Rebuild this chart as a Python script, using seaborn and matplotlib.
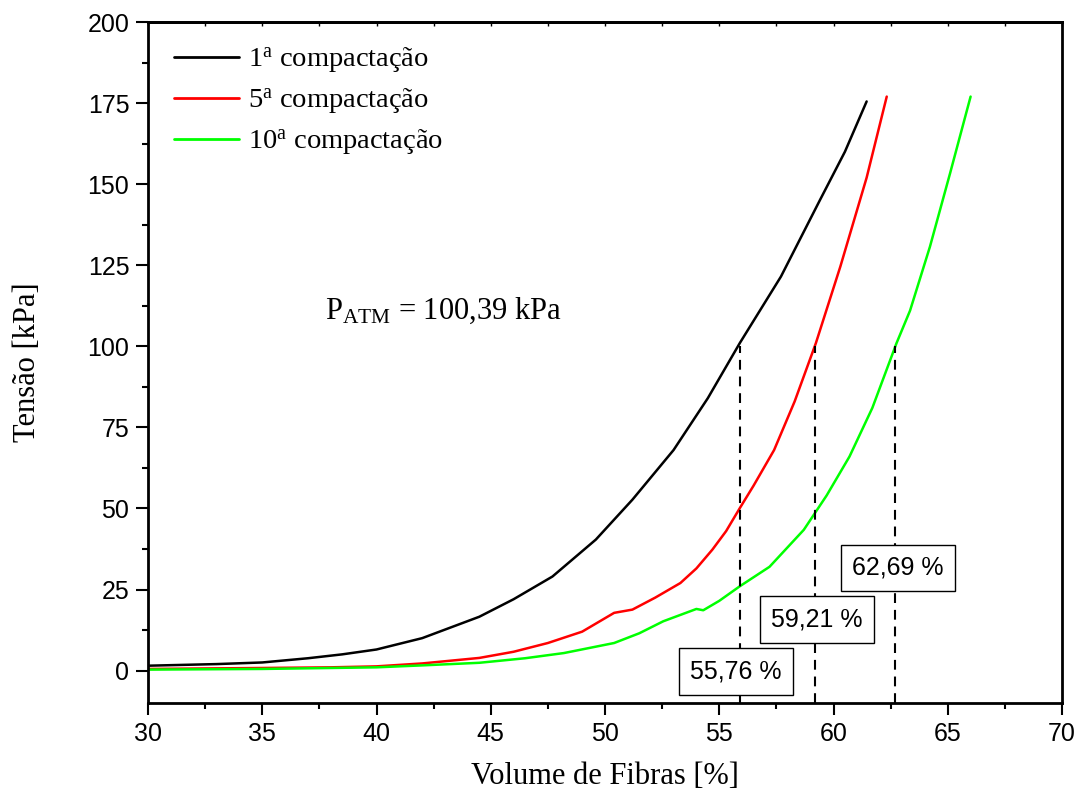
import matplotlib
matplotlib.use("Agg")
import matplotlib.pyplot as plt
import numpy as np
import pandas as pd
import seaborn as sns

# ---- data ----
x_1 = [30.0, 33.0, 35.0, 37.0, 38.5, 40.0, 42.0, 44.5, 46.0, 47.7, 49.6, 51.2, 53.0, 54.5, 55.9, 57.7, 59.4, 60.5, 61.45]
y_1 = [1.5, 2.0, 2.5, 3.8, 5.0, 6.5, 10.0, 16.6, 22.0, 29.0, 40.4, 52.7, 68.0, 84.0, 101.0, 121.5, 145.0, 160.0, 175.5]

x_5 = [30.0, 35.0, 38.0, 40.0, 42.0, 44.5, 46.0, 47.5, 49.0, 50.4, 51.2, 52.2, 53.3, 54.0, 54.7, 55.3, 55.9, 56.5, 57.4, 58.3, 59.23, 60.3, 61.45, 62.33]
y_5 = [0.5, 0.8, 1.0, 1.3, 2.2, 3.9, 5.8, 8.5, 12.0, 17.8, 18.8, 22.5, 27.0, 31.5, 37.3, 43.0, 50.1, 57.0, 68.0, 83.0, 101.0, 124.6, 152.0, 177.0]

x_10 = [30.0, 35.0, 40.0, 42.0, 44.5, 46.5, 48.2, 50.4, 51.5, 52.55, 54.0, 54.3, 55.0, 55.9, 57.2, 58.7, 59.7, 60.7, 61.7, 62.76, 63.35, 64.22, 65.1, 66.0]
y_10 = [0.3, 0.5, 1.0, 1.6, 2.4, 3.8, 5.4, 8.5, 11.5, 15.2, 19.0, 18.6, 21.5, 26.0, 32.0, 43.4, 54.0, 66.0, 81.0, 101.0, 111.0, 130.7, 153.3, 177.0]

series_names = ["1$^{\\mathrm{a}}$ compactação", "5$^{\\mathrm{a}}$ compactação", "10$^{\\mathrm{a}}$ compactação"]
series_colors = ["#000000", "#ff0000", "#00ff00"]

cross_x = [55.9, 59.2, 62.7]
cross_y = 100.0
box_labels = ["55,76 %", "59,21 %", "62,69 %"]
box_x = [55.73, 59.28, 62.82]
box_y = [-0.3, 15.7, 31.7]

patm_text = "P$_{\\mathrm{ATM}}$ = 100,39 kPa"

df = pd.concat([
    pd.DataFrame({"x": x_1, "y": y_1, "serie": series_names[0]}),
    pd.DataFrame({"x": x_5, "y": y_5, "serie": series_names[1]}),
    pd.DataFrame({"x": x_10, "y": y_10, "serie": series_names[2]}),
], ignore_index=True)

# ---- style ----
sns.set_style("ticks")
plt.rcParams["font.family"] = ["Liberation Sans", "DejaVu Sans"]
plt.rcParams["mathtext.fontset"] = "custom"
plt.rcParams["mathtext.rm"] = "Liberation Serif"
plt.rcParams["mathtext.it"] = "Liberation Serif:italic"
plt.rcParams["mathtext.bf"] = "Liberation Serif:bold"
for k in ["text.color", "axes.labelcolor", "axes.edgecolor", "xtick.color", "ytick.color"]:
    plt.rcParams[k] = "black"

fig = plt.figure(figsize=(10.84, 8.05), dpi=100)
ax = fig.add_axes([148 / 1084, 1 - 703 / 805, (1062 - 148) / 1084, (703 - 22) / 805])

sns.lineplot(data=df, x="x", y="y", hue="serie", palette=dict(zip(series_names, series_colors)),
             sort=False, estimator=None, linewidth=1.8, ax=ax)

ax.vlines(cross_x, -10, cross_y, colors="black", linestyles=(0, (4.7, 3.3)), linewidth=1.5)

for lab, bx, by in zip(box_labels, box_x, box_y):
    ax.text(bx, by, lab, fontsize=18, family=["Liberation Sans", "DejaVu Sans"],
            ha="center", va="center", color="black",
            bbox=dict(boxstyle="square,pad=0.45", fc="white", ec="black", lw=1.0))

ax.text(37.75, 111, patm_text, fontsize=22, family=["Liberation Serif", "DejaVu Serif"],
        ha="left", va="center", color="black")

ax.set_xlim(30, 70)
ax.set_ylim(-10, 200)
ax.set_xticks(np.arange(30, 71, 5))
ax.set_xticks(np.arange(32.5, 70, 5), minor=True)
ax.set_yticks(np.arange(0, 201, 25))
ax.set_yticks(np.arange(12.5, 200, 25), minor=True)
ax.tick_params(axis="both", which="major", direction="out", length=8.5, width=1.5, labelsize=18, pad=5,
               colors="black")
ax.tick_params(axis="both", which="minor", direction="out", length=4.5, width=1.5, colors="black")

top = ax.secondary_xaxis("top")
top.set_xticks(np.arange(30, 70.1, 2.5))
top.tick_params(direction="in", length=3, width=1.0, labeltop=False, colors="black")
top.set_xticklabels([])
top.spines["top"].set_linewidth(2)

for s in ax.spines.values():
    s.set_linewidth(2)
    s.set_visible(True)
    s.set_color("black")

ax.set_xlabel("Volume de Fibras [%]", fontsize=22, family=["Liberation Serif", "DejaVu Serif"],
              labelpad=12, color="black")
ax.set_ylabel("Tensão [kPa]", fontsize=22, family=["Liberation Serif", "DejaVu Serif"],
              labelpad=33, color="black")

leg = ax.legend(loc="upper left", bbox_to_anchor=(0.0, 1.003), frameon=False,
                prop={"family": "Liberation Serif", "size": 20.5},
                handlelength=2.3, handletextpad=0.3, labelspacing=0.42, borderaxespad=0.5)
for line in leg.get_lines():
    line.set_linewidth(2)
for t in leg.get_texts():
    t.set_color("black")

fig.savefig("out.png", dpi=100)
